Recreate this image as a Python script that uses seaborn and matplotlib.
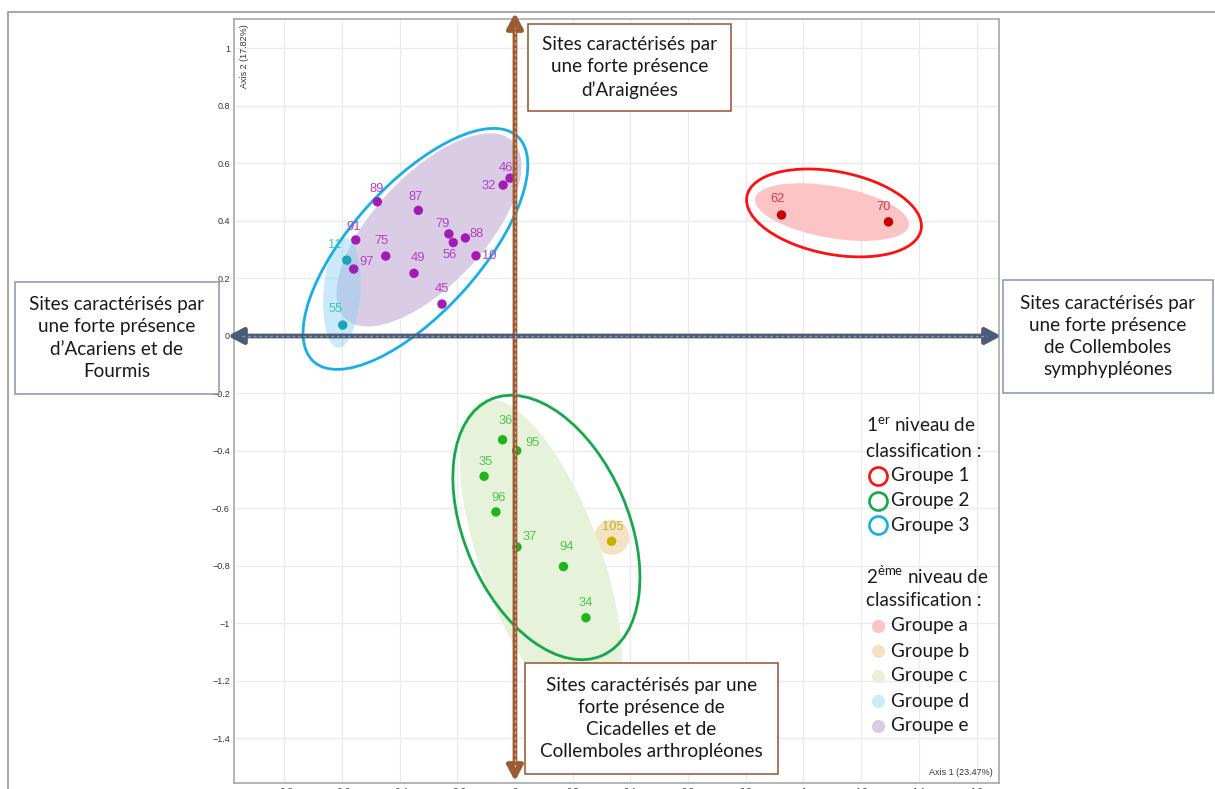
import numpy as np
import pandas as pd
import matplotlib
matplotlib.use("Agg")
import matplotlib.pyplot as plt
import seaborn as sns
from matplotlib.patches import Ellipse, Rectangle
from matplotlib.lines import Line2D

W, H = 1215, 789

# sites and their coordinates on the first two axes
sites = ["46", "32", "89", "87", "91", "79", "88", "56", "75", "10", "97", "49", "45",
         "11", "55",
         "36", "95", "35", "96", "37", "94", "34",
         "105",
         "62", "70"]
axis1 = [-0.017, -0.041, -0.477, -0.335, -0.552, -0.229, -0.172, -0.214, -0.448, -0.135, -0.559, -0.350, -0.253,
         -0.583, -0.597,
         -0.043, 0.006, -0.107, -0.066, 0.007, 0.168, 0.246,
         0.335,
         0.924, 1.295]
axis2 = [0.549, 0.525, 0.467, 0.437, 0.334, 0.355, 0.341, 0.325, 0.278, 0.279, 0.233, 0.218, 0.111,
         0.264, 0.038,
         -0.361, -0.399, -0.488, -0.612, -0.734, -0.802, -0.980,
         -0.714,
         0.421, 0.397]
group2 = ["e"] * 13 + ["d"] * 2 + ["c"] * 7 + ["b"] + ["a"] * 2

level1_names = ["Groupe 1", "Groupe 2", "Groupe 3"]
level2_names = ["Groupe a", "Groupe b", "Groupe c", "Groupe d", "Groupe e"]

x_ticks = [-0.8, -0.6, -0.4, -0.2, 0, 0.2, 0.4, 0.6, 0.8, 1, 1.2, 1.4, 1.6]
y_ticks = [-1.4, -1.2, -1, -0.8, -0.6, -0.4, -0.2, 0, 0.2, 0.4, 0.6, 0.8, 1]

# styles
point_col = {"a": "#c80000", "b": "#c4b000", "c": "#1fb51f", "d": "#17a6b6", "e": "#a21cb4"}
text_col = {"a": "#d23c3c", "b": "#c8b020", "c": "#4cc64c", "d": "#35c6c6", "e": "#b43ec6"}
fill_col = {"a": ((0.99, 0.77, 0.77), 1.0), "b": ((0.95, 0.89, 0.77), 1.0),
            "c": ((0.90, 0.95, 0.85), 1.0), "d": ((0.55, 0.82, 0.95), 0.45),
            "e": ((0.86, 0.80, 0.90), 1.0)}
outline_col = {"1": "#ff1010", "2": "#16a84a", "3": "#18aee8"}

# hand-drawn group envelopes (centre, width, height, angle) in axis units
fill_geo = {"a": ((1.099, 0.431), 0.541, 0.180, -10),
            "b": ((0.336, -0.700), 0.122, 0.122, 0),
            "c": ((0.090, -0.779), 1.18, 0.417, -70),
            "e": ((-0.298, 0.369), 0.847, 0.382, 47),
            "d": ((-0.600, 0.150), 0.382, 0.128, 86)}
outline_geo = {"1": ((1.106, 0.428), 0.615, 0.288, -10.9),
               "2": ((0.109, -0.666), 0.971, 0.569, -66.7),
               "3": ((-0.345, 0.303), 1.055, 0.444, 48)}

# label offsets in pixels (right, up)
label_off = {"46": (-4, 10), "32": (-14, -1), "89": (-1, 13), "87": (-3, 13), "91": (-2, 13),
             "79": (-6, 10), "88": (11, 4), "56": (-4, -12), "75": (-4, 15), "10": (13, 0),
             "97": (13, 7), "49": (4, 15), "45": (0, 15), "11": (-12, 15), "55": (-7, 16),
             "36": (3, 19), "95": (16, 8), "35": (2, 14), "96": (3, 14), "37": (13, 10),
             "94": (3, 20), "34": (0, 15), "105": (1, 14), "62": (-4, 16), "70": (-5, 15)}

df = pd.DataFrame({"site": sites, "axis1": axis1, "axis2": axis2, "group": group2})

sns.set_theme(style="whitegrid")
BOX_FONT = ["Lato", "DejaVu Sans"]
BOX_SIZE = 13.6
plt.rcParams["font.family"] = ["Liberation Sans", "DejaVu Sans"]
plt.rcParams["mathtext.fontset"] = "custom"
plt.rcParams["mathtext.rm"] = "Lato"

fig = plt.figure(figsize=(W / 100, H / 100), dpi=100)
fig.patch.set_facecolor("white")


def fx(px):
    return px / W


def fy(py):
    return 1 - py / H


ax = fig.add_axes([fx(234), fy(783), fx(999) - fx(234), fy(19) - fy(783)])
ax.set_xlim(-0.974, 1.678)
ax.set_ylim(-1.5548, 1.1026)
ax.set_facecolor("white")
ax.grid(True, color="#ebebeb", lw=1)
ax.set_xticks(x_ticks)
ax.set_yticks(y_ticks)
fmt = lambda v: f"{v:g}".replace("-", "\u2212")
ax.set_xticklabels([fmt(v) for v in x_ticks])
ax.set_yticklabels([fmt(v) for v in y_ticks])
ax.tick_params(length=0, labelsize=6.5, labelcolor="#333333", pad=3)
for s in ax.spines.values():
    s.set_color("#a8a8a8")
    s.set_linewidth(1.2)

# second level envelopes (filled)
for g in ["a", "b", "c", "e", "d"]:
    (cx, cy), w, h, ang = fill_geo[g]
    col, al = fill_col[g]
    ax.add_patch(Ellipse((cx, cy), w, h, angle=ang, facecolor=col, alpha=al,
                         edgecolor="none", zorder=1))
# first level envelopes (outlines)
for g, (c, w, h, ang) in outline_geo.items():
    ax.add_patch(Ellipse(c, w, h, angle=ang, facecolor="none",
                         edgecolor=outline_col[g], lw=2.0, zorder=2))

sns.scatterplot(data=df, x="axis1", y="axis2", hue="group", palette=point_col,
                s=46, edgecolor="none", legend=False, ax=ax, zorder=4)
ax.set_xlabel("")
ax.set_ylabel("")

for site, x, y, g in zip(sites, axis1, axis2, group2):
    dx, dy = label_off[site]
    ax.annotate(site, (x, y), xytext=(dx, dy), textcoords="offset pixels",
                ha="center", va="center", fontsize=9.3, color=text_col[g], zorder=5)

ax.text(0.008, 0.993, "Axis 2 (17.82%)", transform=ax.transAxes, rotation=90,
        ha="left", va="top", fontsize=6.5, color="#333333")
ax.text(0.992, 0.008, "Axis 1 (23.47%)", transform=ax.transAxes,
        ha="right", va="bottom", fontsize=6.5, color="#333333")


def axis_arrow(p0, p1, d0, d1, col, dash_col):
    ax.annotate("", xy=p1, xytext=p0, annotation_clip=False, zorder=6,
                arrowprops=dict(arrowstyle="<|-|>,head_length=0.75,head_width=0.4",
                                color=col, lw=3.4, shrinkA=0, shrinkB=0, mutation_scale=12))
    ax.plot([d0[0], d1[0]], [d0[1], d1[1]], color=dash_col, lw=1.0,
            ls=(0, (2, 2)), clip_on=False, zorder=7)


brown = "#9b5a34"
slate = "#4d5b78"
axis_arrow((0, -1.548), (0, 1.1235), (0, -1.50), (0, 1.075), brown, "#d6a683")
axis_arrow((-0.995, 0), (1.685, 0), (-0.945, 0), (1.635, 0), slate, "#8b98b0")

# outer frame of the figure
fig.add_artist(Line2D([fx(8), fx(8)], [fy(12), 0], color="#a9a9a9", lw=1.5))
fig.add_artist(Line2D([fx(8), 1], [fy(12), fy(12)], color="#a9a9a9", lw=1.5))

# interpretation boxes
boxes = [
    ((528, 24, 731, 111), "#95512f",
     "Sites caractérisés par\nune forte présence\nd\u2019Araignées"),
    ((525, 663, 778, 774), "#95512f",
     "Sites caractérisés par une\nforte présence de\nCicadelles et de\nCollemboles arthropléones"),
    ((15, 282, 219, 394), "#8494b4",
     "Sites caractérisés par\nune forte présence\nd\u2019Acariens et de\nFourmis"),
    ((1003, 280, 1213, 393), "#8494b4",
     "Sites caractérisés par\nune forte présence\nde Collemboles\nsymphypléones"),
]
for (x0, y0, x1, y1), ec, txt in boxes:
    fig.add_artist(Rectangle((fx(x0), fy(y1)), fx(x1) - fx(x0), fy(y0) - fy(y1),
                             transform=fig.transFigure, facecolor="white",
                             edgecolor=ec, lw=1.1, zorder=10))
    fig.text(fx((x0 + x1) / 2), fy((y0 + y1) / 2), txt, ha="center", va="center",
             family=BOX_FONT, fontsize=BOX_SIZE, color="#1a1a1a", linespacing=1.38, zorder=11)

# legend drawn by hand
leg_x = 866
fig.text(fx(leg_x), fy(426), r"1$^{\mathrm{er}}$ niveau de", family=BOX_FONT,
         fontsize=BOX_SIZE, va="center", ha="left", color="#1a1a1a")
fig.text(fx(leg_x), fy(451), "classification :", family=BOX_FONT,
         fontsize=BOX_SIZE, va="center", ha="left", color="#1a1a1a")
for i, name in enumerate(level1_names):
    yy = 476 + 24.7 * i
    fig.add_artist(Line2D([fx(878)], [fy(yy)], marker="o", markersize=13,
                          markerfacecolor="none", markeredgewidth=1.9,
                          markeredgecolor=outline_col[str(i + 1)], ls="none"))
    fig.text(fx(891), fy(yy), name, family=BOX_FONT, fontsize=BOX_SIZE,
             va="center", ha="left", color="#1a1a1a")

fig.text(fx(leg_x), fy(576), r"2$^{\mathrm{\`eme}}$ niveau de", family=BOX_FONT,
         fontsize=BOX_SIZE, va="center", ha="left", color="#1a1a1a")
fig.text(fx(leg_x), fy(601), "classification :", family=BOX_FONT,
         fontsize=BOX_SIZE, va="center", ha="left", color="#1a1a1a")
for i, (g, name) in enumerate(zip(["a", "b", "c", "d", "e"], level2_names)):
    yy = 626 + 25 * i
    col, al = fill_col[g]
    if g == "d":
        col = (0.80, 0.92, 0.98)
    fig.add_artist(Line2D([fx(878)], [fy(yy)], marker="o", markersize=9.5,
                          markerfacecolor=col, markeredgecolor="none", ls="none"))
    fig.text(fx(891), fy(yy), name, family=BOX_FONT, fontsize=BOX_SIZE,
             va="center", ha="left", color="#1a1a1a")

fig.savefig("out.png", dpi=100, facecolor="white")
